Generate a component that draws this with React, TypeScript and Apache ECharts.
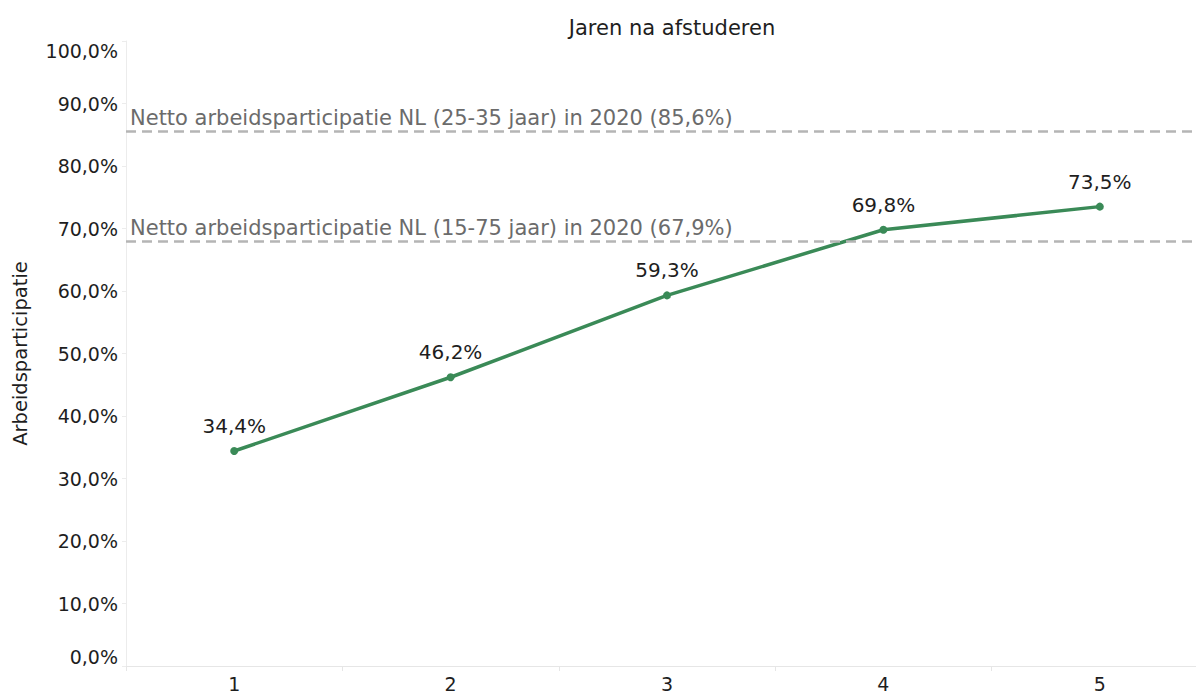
import React, { useEffect, useRef } from "react";
import * as echarts from "echarts";

const categories = ["1", "2", "3", "4", "5"];
const participation = [34.4, 46.2, 59.3, 69.8, 73.5];
const refLines = [
  { value: 85.6, label: "Netto arbeidsparticipatie NL (25-35 jaar) in 2020 (85,6%)" },
  { value: 67.9, label: "Netto arbeidsparticipatie NL (15-75 jaar) in 2020 (67,9%)" },
];
const yTicks = { min: 0, max: 100, interval: 10 };

const FONT = "'DejaVu Sans', sans-serif";
const fmt = (v: number) => v.toFixed(1).replace(".", ",") + "%";

export default function App() {
  const ref = useRef<HTMLDivElement>(null);
  useEffect(() => {
    if (!ref.current) return;
    const chart = echarts.init(ref.current, undefined, { renderer: "svg" });
    chart.setOption({
      animation: false,
      textStyle: { fontFamily: FONT },
      title: {
        text: "Jaren na afstuderen",
        left: 667,
        top: 12,
        textAlign: "center",
        textStyle: { fontFamily: FONT, fontSize: 21, fontWeight: "normal", color: "#1e1e1e" },
      },
      grid: {
        left: 126,
        right: -12,
        top: 41,
        bottom: 29,
        containLabel: false,
        outerBoundsMode: "none",
      },
      xAxis: {
        type: "category",
        data: categories,
        boundaryGap: true,
        axisLine: { show: true, lineStyle: { color: "#e6e6e6", width: 1 } },
        axisTick: { show: true, alignWithLabel: false, length: 5, lineStyle: { color: "#e6e6e6" } },
        axisLabel: { fontFamily: FONT, fontSize: 19, color: "#1e1e1e", margin: 8 },
        splitLine: { show: false },
      },
      yAxis: {
        type: "value",
        min: yTicks.min,
        max: yTicks.max,
        interval: yTicks.interval,
        name: "Arbeidsparticipatie",
        nameLocation: "middle",
        nameGap: 96,
        nameTextStyle: { fontFamily: FONT, fontSize: 19.5, color: "#1e1e1e" },
        axisLine: { show: true, lineStyle: { color: "#ececec", width: 1 } },
        axisTick: { show: true, length: 4, lineStyle: { color: "#ececec" } },
        axisLabel: {
          fontFamily: FONT,
          fontSize: 19,
          color: "#1e1e1e",
          margin: 8,
          formatter: (v: number) => fmt(v),
          verticalAlignMinLabel: "bottom",
          verticalAlignMaxLabel: "top",
        },
        splitLine: { show: false },
      },
      series: [
        {
          type: "line",
          data: participation,
          symbol: "circle",
          symbolSize: 8,
          lineStyle: { color: "#3a8a57", width: 3.5 },
          itemStyle: { color: "#3a8a57" },
          label: {
            show: true,
            position: "top",
            distance: 11,
            fontFamily: FONT,
            fontSize: 20,
            color: "#1e1e1e",
            formatter: (p: any) => fmt(p.value),
          },
          markLine: {
            silent: true,
            symbol: "none",
            lineStyle: { type: [10, 6], color: "#b5b5b5", width: 2.5 },
            label: {
              show: true,
              position: "insideStartTop",
              distance: [4, 3],
              fontFamily: FONT,
              fontSize: 21,
              color: "#6b6b6b",
              formatter: (p: any) => p.name,
            },
            data: refLines.map((r) => ({ yAxis: r.value, name: r.label })),
          },
          z: 3,
        },
      ],
    });
    return () => chart.dispose();
  }, []);
  return (
    <div
      ref={ref}
      style={{ position: "absolute", left: 0, top: 0, width: 1196, height: 695 }}
    />
  );
}
